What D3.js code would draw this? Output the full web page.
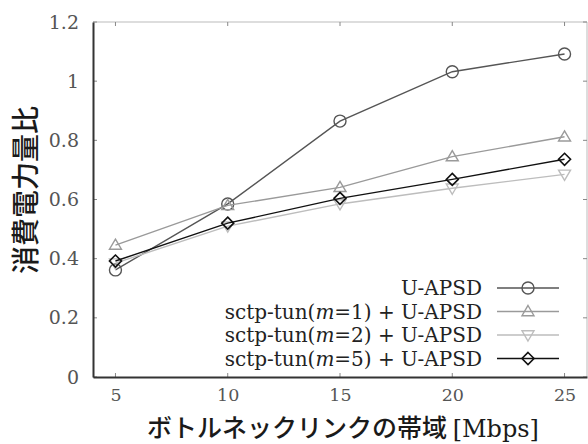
<!DOCTYPE html>
<html><head><meta charset="utf-8">
<script src="https://cdn.jsdelivr.net/npm/d3@7"></script>
<style>
html,body{margin:0;padding:0;background:#fff;}
svg{display:block;}
.serif{font-family:"DejaVu Serif","Liberation Serif","Noto Serif",serif;}
.gothic{font-family:"Noto Sans CJK JP","Noto Sans",sans-serif;}
</style></head>
<body>
<svg id="chart" width="588" height="444"></svg>
<script>
// Bottleneck bandwidth (Mbps)
const bandwidth = [5, 10, 15, 20, 25];
// Power consumption ratio per scheme
const uapsd = [0.362, 0.585, 0.865, 1.032, 1.092];
const tunM1 = [0.446, 0.58, 0.641, 0.745, 0.812];
const tunM2 = [0.385, 0.51, 0.585, 0.638, 0.685];
const tunM5 = [0.392, 0.52, 0.604, 0.668, 0.736];
const xTicks = [5, 10, 15, 20, 25];
const yTicks = [0, 0.2, 0.4, 0.6, 0.8, 1, 1.2];
const seriesNames = ["U-APSD", "sctp-tun(m=1) + U-APSD", "sctp-tun(m=2) + U-APSD", "sctp-tun(m=5) + U-APSD"];

const series = [
  {name: seriesNames[0], m: null, values: uapsd, color: "#555", symbol: "circle"},
  {name: seriesNames[1], m: "1", values: tunM1, color: "#9a9a9a", symbol: "up"},
  {name: seriesNames[2], m: "2", values: tunM2, color: "#bdbdbd", symbol: "down"},
  {name: seriesNames[3], m: "5", values: tunM5, color: "#111", symbol: "diamond"}
];

const svg = d3.select("#chart");
const L = 93, R = 587, T = 22, B = 377;
const x = d3.scaleLinear().domain([4, 26]).range([L, R]);
const y = d3.scaleLinear().domain([0, 1.2]).range([B, T]);

// frame: light top/right, dark left/bottom
svg.append("line").attr("x1", L).attr("x2", R).attr("y1", T).attr("y2", T).attr("stroke", "#bbb").attr("stroke-width", 1);
svg.append("line").attr("x1", R).attr("x2", R).attr("y1", T).attr("y2", B).attr("stroke", "#bbb").attr("stroke-width", 1);

// inward ticks on all sides
const tickLen = 4;
xTicks.forEach(t => {
  svg.append("line").attr("x1", x(t)).attr("x2", x(t)).attr("y1", B).attr("y2", B - tickLen).attr("stroke", "#888");
  svg.append("line").attr("x1", x(t)).attr("x2", x(t)).attr("y1", T).attr("y2", T + tickLen).attr("stroke", "#888");
});
yTicks.forEach(t => {
  svg.append("line").attr("x1", L).attr("x2", L + tickLen).attr("y1", y(t)).attr("y2", y(t)).attr("stroke", "#888");
  svg.append("line").attr("x1", R).attr("x2", R - tickLen).attr("y1", y(t)).attr("y2", y(t)).attr("stroke", "#888");
});

// axis lines and tick labels
const xAxis = d3.axisBottom(x).tickValues(xTicks).tickSize(0).tickPadding(12).tickFormat(d3.format("d"));
const gx = svg.append("g").attr("transform", `translate(0,${B})`).call(xAxis);
gx.attr("font-family", null).attr("font-size", null);
gx.select(".domain").attr("stroke", "#333").attr("stroke-width", 2);
gx.selectAll("text").attr("class", "serif").style("font-size", "17.5px").attr("fill", "#555");

const yAxis = d3.axisLeft(y).tickValues(yTicks).tickSize(0).tickPadding(14).tickFormat(d => String(d));
const gy = svg.append("g").attr("transform", `translate(${L},0)`).call(yAxis);
gy.attr("font-family", null).attr("font-size", null);
gy.select(".domain").attr("stroke", "#333").attr("stroke-width", 2);
gy.selectAll("text").attr("class", "serif").style("font-size", "19px").attr("fill", "#555");

// marker shapes
function marker(g, cx, cy, sym, color) {
  const s = 6;
  if (sym === "circle") {
    g.append("circle").attr("cx", cx).attr("cy", cy).attr("r", 6).attr("fill", "none").attr("stroke", color).attr("stroke-width", 1.4);
  } else if (sym === "up") {
    g.append("path").attr("d", `M${cx},${cy - s}L${cx + s},${cy + s * 0.7}L${cx - s},${cy + s * 0.7}Z`).attr("fill", "none").attr("stroke", color).attr("stroke-width", 1.4);
  } else if (sym === "down") {
    g.append("path").attr("d", `M${cx},${cy + s}L${cx + s},${cy - s * 0.7}L${cx - s},${cy - s * 0.7}Z`).attr("fill", "none").attr("stroke", color).attr("stroke-width", 1.4);
  } else {
    g.append("path").attr("d", `M${cx},${cy - s}L${cx + s},${cy}L${cx},${cy + s}L${cx - s},${cy}Z`).attr("fill", "none").attr("stroke", color).attr("stroke-width", 1.6);
  }
}

const line = d3.line().x((d, i) => x(bandwidth[i])).y(d => y(d));
const plot = svg.append("g");
series.forEach(s => {
  plot.append("path").datum(s.values).attr("d", line).attr("fill", "none").attr("stroke", s.color).attr("stroke-width", 1.4);
  s.values.forEach((v, i) => marker(plot, x(bandwidth[i]), y(v), s.symbol, s.color));
});

// legend
const legTextX = 482, legY0 = 288, legDy = 23.5;
series.forEach((s, i) => {
  const yy = legY0 + i * legDy;
  const t = svg.append("text").attr("class", "serif").attr("x", legTextX).attr("y", yy).attr("dy", "0.35em")
    .attr("text-anchor", "end").style("font-size", "20px").attr("fill", "#222");
  if (s.m === null) {
    t.text(s.name);
  } else {
    t.append("tspan").text("sctp-tun(");
    t.append("tspan").style("font-style", "italic").text("m");
    t.append("tspan").text("=" + s.m + ") + U-APSD");
  }
  svg.append("line").attr("x1", 497).attr("x2", 559).attr("y1", yy).attr("y2", yy).attr("stroke", s.color).attr("stroke-width", 1.5);
  marker(svg, 528, yy, s.symbol, s.color);
});

// axis titles
const xt = svg.append("text").attr("x", 343).attr("y", 437).attr("text-anchor", "middle").attr("fill", "#1a1a1a");
xt.append("tspan").attr("class", "gothic").style("font-size", "25px").style("font-weight", "500").text("ボトルネックリンクの帯域 ");
xt.append("tspan").attr("class", "serif").style("font-size", "24px").text("[Mbps]");

svg.append("text").attr("class", "gothic").attr("transform", "translate(36,190) rotate(-90)").attr("text-anchor", "middle")
  .style("font-size", "28px").style("font-weight", "500").attr("fill", "#1a1a1a").text("消費電力量比");
</script>
</body></html>
